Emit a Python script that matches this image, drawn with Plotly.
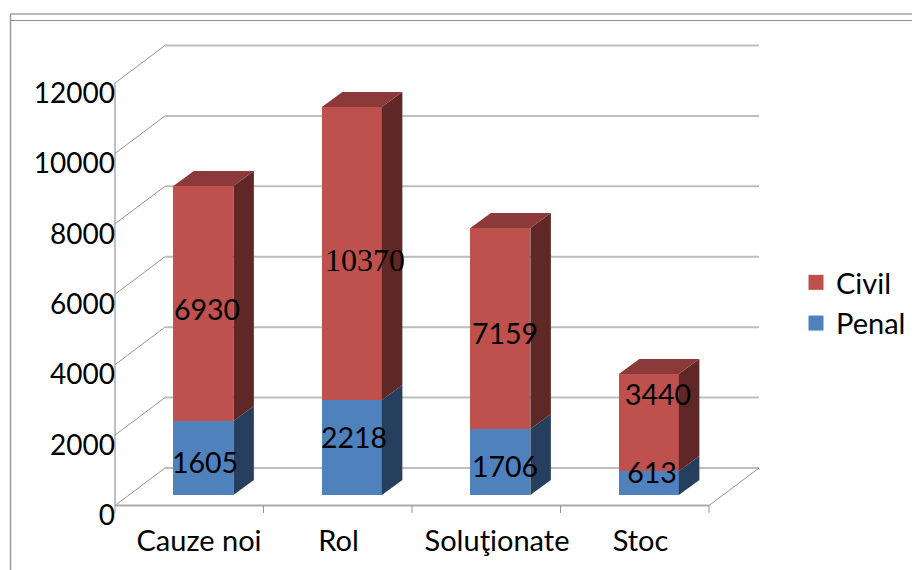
import plotly.graph_objects as go

# ---- data ----
categories = ["Cauze noi", "Rol", "Soluţionate", "Stoc"]
penal_drawn = [2102, 2698, 1874, 682]      # heights as drawn against the axis
civil_drawn = [6674, 8322, 5709, 2755]
penal_labels = ["1605", "2218", "1706", "613"]   # values printed on the bars
civil_labels = ["6930", "10370", "7159", "3440"]
value_ticks = [0, 2000, 4000, 6000, 8000, 10000, 12000]

# ---- geometry / projection ----
W, H = 912, 570
X0_PX, CAT_PX = 115.0, 148.5      # x pixel of first axis tick, pixels per category
Y0_PX, K = 505.5, 422.5 / 12000   # y pixel of value 0, pixels per value unit
PL, PR, PT, PB = 113, 770, 30, 520

def dxu(px): return px / CAT_PX
def dyu(px): return px / K
def xu(px): return (px - X0_PX) / CAT_PX
def yu(py): return (Y0_PX - py) / K

WALL_DX, WALL_DY = dxu(50), dyu(37.5)
BAR_DX, BAR_DY = dxu(20.5), dyu(15)
BAR_W = dxu(60)
BAR_BASE = dyu(10.5)
centers = [i + 0.595 for i in range(len(categories))]
penal_tops = [BAR_BASE + p for p in penal_drawn]
civil_tops = [t + c for t, c in zip(penal_tops, civil_drawn)]

RED, RED_SIDE, RED_TOP = "#BE504D", "#5F2725", "#8C3A39"
BLUE, BLUE_SIDE = "#4F81BD", "#263F5E"
FONT = "Lato"
BLACK = "#000000"

fig = go.Figure()

# front faces
fig.add_trace(go.Bar(name="Civil", x=centers, y=civil_drawn, base=penal_tops, width=BAR_W,
                     marker=dict(color=RED, line_width=0), showlegend=False))
fig.add_trace(go.Bar(name="Penal", x=centers, y=penal_drawn, base=BAR_BASE, width=BAR_W,
                     marker=dict(color=BLUE, line_width=0), showlegend=False))
# legend keys
for nm, col in [("Civil", RED), ("Penal", BLUE)]:
    fig.add_trace(go.Scatter(name=nm, x=[None], y=[None], mode="markers", legendgroup=nm,
                             marker=dict(symbol="square", size=15, color=col)))

def poly(xs, ys, color):
    fig.add_trace(go.Scatter(x=xs, y=ys, mode="lines", fill="toself", fillcolor=color,
                             line=dict(width=0, color=color), hoverinfo="skip", showlegend=False))

for c, pt, ct in zip(centers, penal_tops, civil_tops):
    r = c + BAR_W / 2
    l = c - BAR_W / 2
    # right sides
    poly([r, r + BAR_DX, r + BAR_DX, r, r],
         [BAR_BASE, BAR_BASE + BAR_DY, pt + BAR_DY, pt, BAR_BASE], BLUE_SIDE)
    poly([r, r + BAR_DX, r + BAR_DX, r, r],
         [pt, pt + BAR_DY, ct + BAR_DY, ct, pt], RED_SIDE)
    # top
    poly([l, r, r + BAR_DX, l + BAR_DX, l],
         [ct, ct, ct + BAR_DY, ct + BAR_DY, ct], RED_TOP)

# value labels
label_px = [(205, 466), (354, 441), (505, 470), (652, 476),
            (207, 313), (365, 263), (505, 337), (658, 398)]
label_text = penal_labels + civil_labels
label_font = [FONT] * 5 + ["Liberation Serif"] + [FONT] * 2
label_size = [28.5] * 5 + [32] + [28.5] * 2
fig.add_trace(go.Scatter(x=[xu(p[0]) for p in label_px], y=[yu(p[1]) for p in label_px],
                         mode="text", text=label_text, textposition="middle center",
                         textfont=dict(family=label_font, size=label_size, color=BLACK),
                         showlegend=False, hoverinfo="skip", cliponaxis=False))

# walls, floor and axis lines
shapes = []
def seg(x0, y0, x1, y1, color, width):
    shapes.append(dict(type="line", xref="x", yref="y", x0=x0, y0=y0, x1=x1, y1=y1,
                       line=dict(color=color, width=width), layer="below"))

n = len(categories)
GRID, AXIS = "#BEBEBE", "#969696"
for v in value_ticks:
    seg(WALL_DX, v + WALL_DY, n + WALL_DX, v + WALL_DY, GRID, 2)
    seg(0, v, WALL_DX, v + WALL_DY, AXIS, 1)
seg(0, 0, 0, value_ticks[-1], AXIS, 1.2)
seg(0, 0, n, 0, "#ABABAB", 2)
seg(n, 0, n + WALL_DX, WALL_DY, AXIS, 1)
for i in range(n + 1):
    seg(i, 0, i, -dyu(7.5), AXIS, 1)

# outer frame of the chart
for x0, y0, x1, y1, col, w in [(10.5, 14, 912, 14, "#BBBBBB", 2),
                               (10.5, 20.5, 912, 20.5, "#8C8C8C", 1.2),
                               (10.5, 14, 10.5, 570, "#9A9A9A", 1.5)]:
    shapes.append(dict(type="line", xref="paper", yref="paper",
                       x0=x0 / W, x1=x1 / W, y0=1 - y0 / H, y1=1 - y1 / H,
                       line=dict(color=col, width=w)))

label_centres_px = [199, 338.5, 497, 640.5]
fig.update_layout(
    width=W, height=H, autosize=False, showlegend=True,
    margin=dict(l=0, r=0, t=0, b=0, autoexpand=False), paper_bgcolor="white", plot_bgcolor="white",
    barmode="overlay", bargap=0, shapes=shapes,
    font=dict(family=FONT, size=28, color=BLACK),
    xaxis=dict(domain=[PL / W, PR / W], range=[xu(PL), xu(PR)], showgrid=False, zeroline=False,
               showline=False, ticks="", tickmode="array",
               tickvals=[xu(p) for p in label_centres_px], ticktext=categories,
               tickangle=0, tickfont=dict(family=FONT, size=29, color=BLACK), ticklabelstandoff=1),
    yaxis=dict(domain=[1 - PB / H, 1 - PT / H], range=[yu(PB), yu(PT)], showgrid=False,
               zeroline=False, showline=False, ticks="", tickmode="array",
               tickvals=[v - dyu(10) for v in value_ticks], ticktext=[str(v) for v in value_ticks],
               tickfont=dict(family=FONT, size=28, color=BLACK), ticklabelstandoff=-3),
    legend=dict(x=796 / W, y=1 - 257 / H, xanchor="left", yanchor="top", bgcolor="rgba(0,0,0,0)",
                traceorder="normal", tracegroupgap=20, itemwidth=30,
                font=dict(family=FONT, size=29, color=BLACK)),
)
fig.write_html("out.html", config=dict(displayModeBar=False),
               post_script="document.body.style.margin='0';document.documentElement.style.overflow='hidden';")
